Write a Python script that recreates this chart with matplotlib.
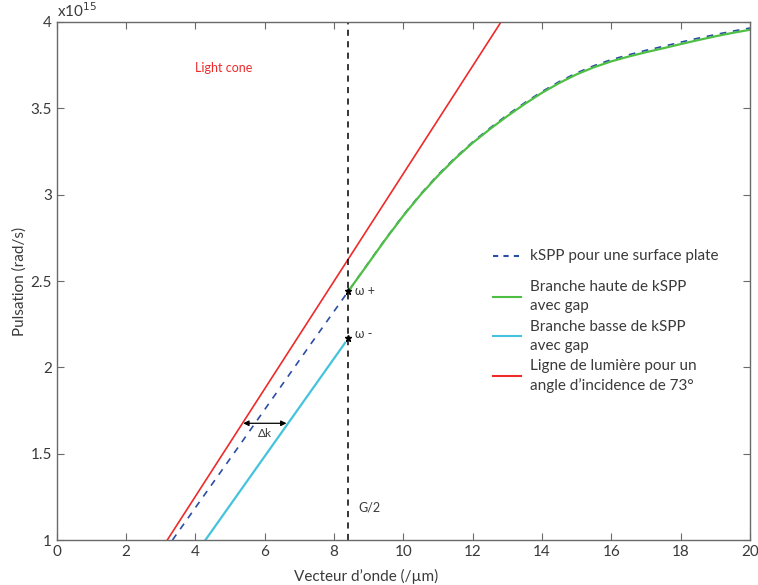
import matplotlib
matplotlib.use("Agg")
import matplotlib.pyplot as plt
from matplotlib.lines import Line2D
from matplotlib.ticker import FuncFormatter

plt.rcParams['font.family'] = ['Lato', 'DejaVu Sans']

# --- data (k in /um, omega in 1e15 rad/s) ---
k_flat = [3.34, 5.14, 7.40, 8.41, 9.0, 9.5, 10.0, 10.5, 11.0, 11.5, 12.0, 12.5,
          13.0, 13.5, 14.0, 14.5, 15.0, 15.5, 16.0, 16.5, 17.0, 17.5, 18.0,
          18.5, 19.0, 19.5, 20.0]
w_flat = [1.0, 1.51, 2.155, 2.44, 2.607, 2.748, 2.881, 3.004, 3.115, 3.215,
          3.305, 3.386, 3.462, 3.532, 3.597, 3.655, 3.705, 3.747, 3.782,
          3.810, 3.836, 3.859, 3.883, 3.906, 3.927, 3.947, 3.965]

k_high = [8.41, 9.0, 9.5, 10.0, 10.5, 11.0, 11.5, 12.0, 12.5, 13.0, 13.5,
          14.0, 14.5, 15.0, 15.5, 16.0, 16.5, 17.0, 17.5, 18.0, 18.5, 19.0,
          19.5, 20.0]
w_high = [2.44, 2.605, 2.745, 2.878, 3.0, 3.11, 3.21, 3.30, 3.38, 3.455,
          3.525, 3.59, 3.647, 3.697, 3.738, 3.772, 3.80, 3.825, 3.848,
          3.872, 3.895, 3.917, 3.937, 3.955]

k_low = [4.29, 8.32]
w_low = [1.0, 2.142]

k_light = [3.19, 12.85]
w_light = [1.0, 4.01]

k_half = 8.41          # G/2
w_plus = 2.44
w_minus = 2.171
dk_left, dk_right, dk_w = 5.38, 6.63, 1.676

blue = '#2b4ea2'
green = '#4dbf44'
cyan = '#45c3dd'
red = '#ee2a2a'
grey = '#6a6a6a'
txt = '#3a3a3a'

fig = plt.figure(figsize=(7.58, 5.85), dpi=100)
ax = fig.add_axes([0.0748, 0.0769, 0.9146, 0.8855])

ax.plot(k_light, w_light, color=red, lw=1.2)
ax.plot(k_flat, w_flat, color=blue, lw=1.2, ls=(0, (4, 4)))
ax.plot(k_high, w_high, color=green, lw=1.6)
ax.plot(k_low, w_low, color=cyan, lw=1.6)
ax.axvline(k_half, color='black', lw=1.1, ls=(0, (4, 3.5)))
ax.plot([k_half, k_half], [w_plus, w_minus], ls='none', marker='*',
        color='black', ms=5)

ax.annotate('', xy=(dk_left, dk_w), xytext=(dk_right, dk_w),
            arrowprops=dict(arrowstyle='<|-|>', color='black', lw=0.9,
                            mutation_scale=8, shrinkA=0, shrinkB=0))
ax.text((dk_left + dk_right) / 2, dk_w - 0.03, 'Δk', fontsize=8.5,
        color=txt, ha='center', va='top')
ax.text(k_half + 0.2, w_plus, 'ω +', fontsize=9, color=txt, va='center')
ax.text(k_half + 0.2, w_minus + 0.02, 'ω -', fontsize=9, color=txt,
        va='center')
ax.text(k_half + 0.3, 1.19, 'G/2', fontsize=9, color=txt, va='center')
ax.text(4.0, 3.733, 'Light cone', fontsize=9, color=red, va='center')

ax.set_xlim(0, 20)
ax.set_ylim(1, 4)
ax.set_xticks(range(0, 21, 2))
ax.set_yticks([1, 1.5, 2, 2.5, 3, 3.5, 4])
ax.yaxis.set_major_formatter(FuncFormatter(lambda v, p: f'{v:g}'))
ax.tick_params(direction='in', length=5, width=0.8, color=grey,
               labelcolor=txt, labelsize=11, top=True, right=True)
for s in ax.spines.values():
    s.set_color(grey)
    s.set_linewidth(1.0)

ax.set_xlabel('Vecteur d’onde (/µm)', fontsize=11, color=txt)
ax.set_ylabel('Pulsation (rad/s)', fontsize=11, color=txt)
ax.xaxis.set_label_coords(0.446, -0.055)
ax.yaxis.set_label_coords(-0.043, 0.5)
ax.text(0.0, 1.003, r'x10$^{15}$', transform=ax.transAxes, fontsize=11,
        color=txt, va='bottom', ha='left')

# legend drawn by hand to keep the uneven spacing of the original
entries = [
    ('kSPP pour une surface plate', blue, (0, (2.5, 2.5)), 0.549),
    ('Branche haute de kSPP\navec gap', green, '-', 0.470),
    ('Branche basse de kSPP\navec gap', cyan, '-', 0.393),
    ('Ligne de lumière pour un\nangle d’incidence de 73°', red, '-', 0.316),
]
for label, col, style, y in entries:
    ax.add_line(Line2D([0.629, 0.670], [y, y], transform=ax.transAxes,
                       color=col, ls=style, lw=1.5))
    ax.text(0.683, y, label, transform=ax.transAxes, fontsize=11,
            color=txt, va='center', linespacing=1.4)

fig.savefig('out.png', dpi=100)
